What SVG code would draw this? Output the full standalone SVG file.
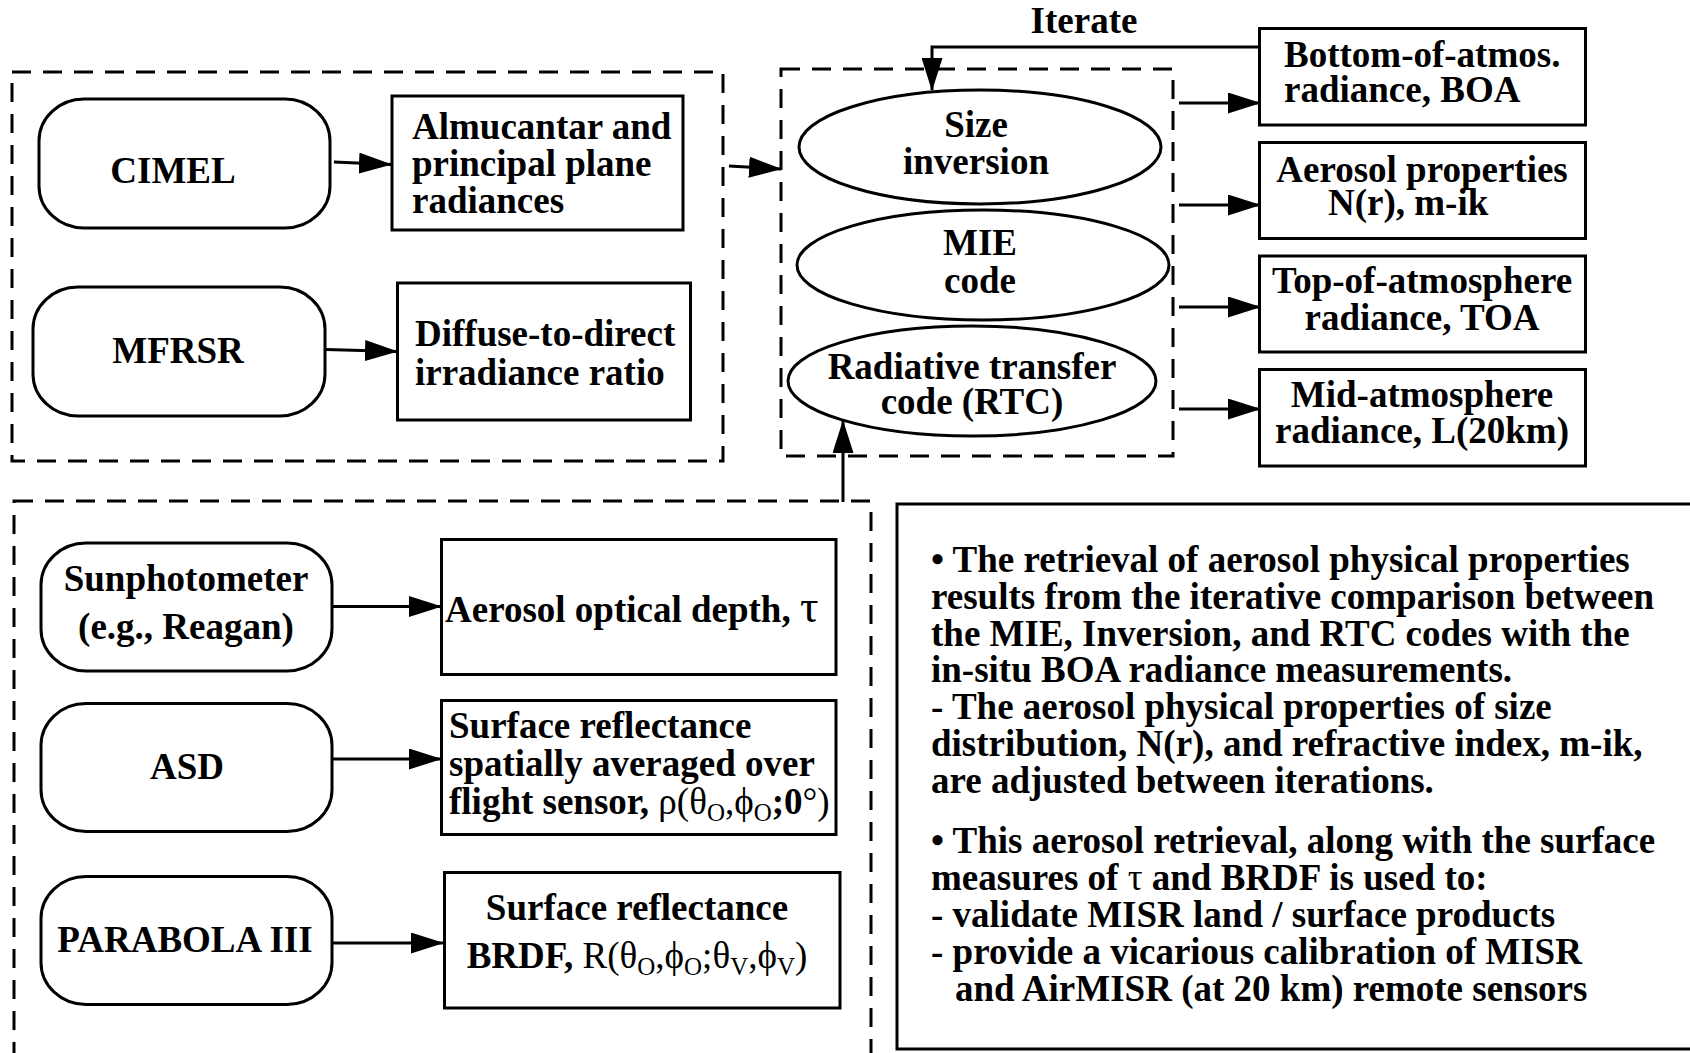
<svg xmlns="http://www.w3.org/2000/svg" width="1690" height="1053" viewBox="0 0 1690 1053">
<style>
.t{font-family:"Liberation Serif","Times New Roman",serif;font-weight:bold;font-size:37px;fill:#000}
.r{font-weight:normal}
.sub{font-weight:normal;font-size:25px}
.box{fill:#fff;stroke:#000;stroke-width:3}
.dash{fill:none;stroke:#000;stroke-width:3;stroke-dasharray:19 12}
.conn{fill:none;stroke:#000;stroke-width:3}
</style>
<defs>
<marker id="ah" markerUnits="userSpaceOnUse" markerWidth="33" markerHeight="21" refX="32" refY="10.5" orient="auto">
<path d="M0,0 L33,10.5 L0,21 Z" fill="#000"/>
</marker>
</defs>
<rect width="1690" height="1053" fill="#fff"/>

<g id="groups">
<rect id="group-sky" class="dash" x="12" y="72" width="711" height="389"/>
<rect id="group-codes" class="dash" x="781" y="69" width="392" height="387"/>
<rect id="group-surface" class="dash" x="14" y="501" width="857" height="570"/>
</g>

<g id="connectors">
<path class="conn" d="M1259,47 H932 V90" marker-end="url(#ah)"/>
<path class="conn" d="M334,162 L391,164.5" marker-end="url(#ah)"/>
<path class="conn" d="M326,349.5 L397,351.5" marker-end="url(#ah)"/>
<path class="conn" d="M729,166 L781,169" marker-end="url(#ah)"/>
<path class="conn" d="M1179,103 H1260" marker-end="url(#ah)"/>
<path class="conn" d="M1179,205 H1260" marker-end="url(#ah)"/>
<path class="conn" d="M1179,307 H1260" marker-end="url(#ah)"/>
<path class="conn" d="M1179,409 H1260" marker-end="url(#ah)"/>
<path class="conn" d="M843,502 V421" marker-end="url(#ah)"/>
<path class="conn" d="M332,606.5 H441" marker-end="url(#ah)"/>
<path class="conn" d="M332,759 H441" marker-end="url(#ah)"/>
<path class="conn" d="M332,943 H443" marker-end="url(#ah)"/>
</g>

<text id="label-iterate" class="t" x="1084" y="33" text-anchor="middle">Iterate</text>

<g id="node-cimel">
<rect class="box" x="39" y="99" width="291" height="129" rx="45" ry="42"/>
<text class="t" x="173" y="183" text-anchor="middle">CIMEL</text>
</g>
<g id="node-almucantar">
<rect class="box" x="392" y="96" width="291" height="134"/>
<text class="t" x="412" y="139">Almucantar and</text>
<text class="t" x="412" y="176">principal plane</text>
<text class="t" x="412" y="213">radiances</text>
</g>
<g id="node-mfrsr">
<rect class="box" x="33" y="287" width="292" height="129" rx="45" ry="42"/>
<text class="t" x="178" y="363" text-anchor="middle">MFRSR</text>
</g>
<g id="node-diffuse">
<rect class="box" x="397.5" y="283" width="293" height="137"/>
<text class="t" x="415" y="346">Diffuse-to-direct</text>
<text class="t" x="415" y="385">irradiance ratio</text>
</g>

<g id="node-size-inversion">
<ellipse class="box" cx="980" cy="147" rx="181" ry="57"/>
<text class="t" x="976" y="137" text-anchor="middle">Size</text>
<text class="t" x="976" y="174" text-anchor="middle">inversion</text>
</g>
<g id="node-mie">
<ellipse class="box" cx="983" cy="265" rx="186" ry="55"/>
<text class="t" x="980" y="255" text-anchor="middle">MIE</text>
<text class="t" x="980" y="293" text-anchor="middle">code</text>
</g>
<g id="node-rtc">
<ellipse class="box" cx="972" cy="381" rx="184" ry="55"/>
<text class="t" x="972" y="379" text-anchor="middle">Radiative transfer</text>
<text class="t" x="972" y="414" text-anchor="middle">code (RTC)</text>
</g>

<g id="node-boa">
<rect class="box" x="1259.5" y="28.5" width="326" height="96.5"/>
<text class="t" x="1284" y="67">Bottom-of-atmos.</text>
<text class="t" x="1284" y="102">radiance, BOA</text>
</g>
<g id="node-aerosol-props">
<rect class="box" x="1259.5" y="142.5" width="326" height="96"/>
<text class="t" x="1422" y="182" text-anchor="middle">Aerosol properties</text>
<text class="t" x="1328" y="215">N(r), m-ik</text>
</g>
<g id="node-toa">
<rect class="box" x="1259.5" y="256" width="326" height="96"/>
<text class="t" x="1422" y="293" text-anchor="middle">Top-of-atmosphere</text>
<text class="t" x="1422" y="330" text-anchor="middle">radiance, TOA</text>
</g>
<g id="node-mid">
<rect class="box" x="1259.5" y="369.5" width="326" height="96.5"/>
<text class="t" x="1422" y="407" text-anchor="middle">Mid-atmosphere</text>
<text class="t" x="1422" y="443" text-anchor="middle">radiance, L(20km)</text>
</g>

<g id="node-sunphotometer">
<rect class="box" x="41" y="543" width="291" height="128" rx="45" ry="42"/>
<text class="t" x="186" y="591" text-anchor="middle">Sunphotometer</text>
<text class="t" x="186" y="639" text-anchor="middle">(e.g., Reagan)</text>
</g>
<g id="node-aod">
<rect class="box" x="441.5" y="539.5" width="394.5" height="135"/>
<text class="t" x="445" y="622">Aerosol optical depth, <tspan class="r" font-size="46">τ</tspan></text>
</g>
<g id="node-asd">
<rect class="box" x="41" y="703.5" width="291" height="128" rx="45" ry="42"/>
<text class="t" x="187" y="779" text-anchor="middle">ASD</text>
</g>
<g id="node-surface-avg">
<rect class="box" x="441.5" y="700.5" width="394.5" height="134"/>
<text class="t" x="449" y="738">Surface reflectance</text>
<text class="t" x="449" y="776">spatially averaged over</text>
<text class="t" x="449" y="814">flight sensor, <tspan class="r">ρ(θ</tspan><tspan class="sub" dy="7">O</tspan><tspan class="r" dy="-7">,ϕ</tspan><tspan class="sub" dy="7">O</tspan><tspan dy="-7">;0</tspan><tspan class="r">°)</tspan></text>
</g>
<g id="node-parabola">
<rect class="box" x="41" y="876.5" width="291" height="128" rx="45" ry="42"/>
<text class="t" x="185" y="952" text-anchor="middle">PARABOLA III</text>
</g>
<g id="node-brdf">
<rect class="box" x="444.5" y="872.5" width="395.5" height="135.5"/>
<text class="t" x="637" y="920" text-anchor="middle">Surface reflectance</text>
<text class="t" x="637" y="968" text-anchor="middle">BRDF, <tspan class="r">R(θ</tspan><tspan class="sub" dy="7">O</tspan><tspan class="r" dy="-7">,ϕ</tspan><tspan class="sub" dy="7">O</tspan><tspan class="r" dy="-7">;θ</tspan><tspan class="sub" dy="7">V</tspan><tspan class="r" dy="-7">,ϕ</tspan><tspan class="sub" dy="7">V</tspan><tspan class="r" dy="-7">)</tspan></text>
</g>

<g id="node-notes">
<rect class="box" x="897" y="504" width="810" height="545"/>
<text class="t" x="931" y="572">• The retrieval of aerosol physical properties</text>
<text class="t" x="931" y="609">results from the iterative comparison between</text>
<text class="t" x="931" y="646">the MIE, Inversion, and RTC codes with the</text>
<text class="t" x="931" y="682">in-situ BOA radiance measurements.</text>
<text class="t" x="931" y="719">- The aerosol physical properties of size</text>
<text class="t" x="931" y="756">distribution, N(r), and refractive index, m-ik,</text>
<text class="t" x="931" y="793">are adjusted between iterations.</text>
<text class="t" x="931" y="853">• This aerosol retrieval, along with the surface</text>
<text class="t" x="931" y="890">measures of <tspan class="r">τ</tspan> and BRDF is used to:</text>
<text class="t" x="931" y="927">- validate MISR land / surface products</text>
<text class="t" x="931" y="964">- provide a vicarious calibration of MISR</text>
<text class="t" x="955" y="1001">and AirMISR (at 20 km) remote sensors</text>
</g>
</svg>
